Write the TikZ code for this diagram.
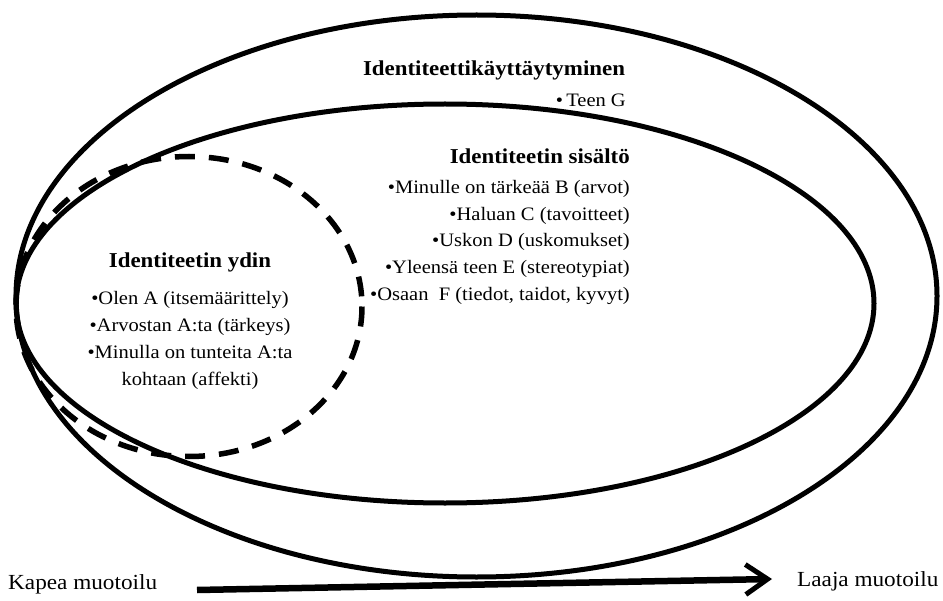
\documentclass[tikz,border=0pt]{standalone}
\usepackage{fontspec}
\setmainfont[FakeStretch=1.08]{Liberation Serif}
\usetikzlibrary{arrows.meta}
\tikzset{
  ring/.style={line width=5bp},
  corering/.style={line width=5.5bp, dash pattern=on 20bp off 14bp},
  head/.style={font=\fontsize{21.2bp}{26bp}\selectfont\bfseries, inner sep=0pt},
  item/.style={font=\fontsize{19bp}{26bp}\selectfont, inner sep=0pt},
  endlabel/.style={font=\fontsize{21.5bp}{26bp}\selectfont, inner sep=0pt},
  axis/.style={line width=6.5bp, -{Straight Barb[length=22bp,width=30bp,line width=5bp]}}
}
\begin{document}
\begin{tikzpicture}[x=1bp,y=-1bp]
\useasboundingbox (0,0) rectangle (943,601);
% nested layers
\draw[ring] (476.5,296) ellipse [x radius=460.5, y radius=281];
\draw[ring] (445,303.5) ellipse [x radius=429, y radius=199.5];
\draw[corering] (189,306.5) ellipse [x radius=173, y radius=150];
% outer layer
\node[head, anchor=base] (behav) at (494,76) {Identiteettikäyttäytyminen};
\node[item, anchor=base east] (g) at (626,107) {•\,Teen G};
% middle layer
\node[head, anchor=base east] (content) at (630,164) {Identiteetin sisältö};
\node[item, anchor=base east] (b) at (630,194) {•Minulle on tärkeää B (arvot)};
\node[item, anchor=base east] (c) at (630,221) {•Haluan C (tavoitteet)};
\node[item, anchor=base east] (d) at (630,247) {•Uskon D (uskomukset)};
\node[item, anchor=base east] (e) at (630,274) {•Yleensä teen E (stereotypiat)};
\node[item, anchor=base east] (f) at (630,300) {•Osaan\ \ F (tiedot, taidot, kyvyt)};
% core
\node[head, anchor=base] (core) at (190,268) {Identiteetin ydin};
\node[item, anchor=base] (a1) at (190,304) {•Olen A (itsemäärittely)};
\node[item, anchor=base] (a2) at (190,331) {•Arvostan A:ta (tärkeys)};
\node[item, anchor=base] (a3) at (190,358) {•Minulla on tunteita A:ta};
\node[item, anchor=base] (a4) at (190,385) {kohtaan (affekti)};
% scale from narrow to broad
\node[endlabel, anchor=base west] (narrow) at (8,589) {Kapea muotoilu};
\node[endlabel, anchor=base west] (broad) at (797,586) {Laaja muotoilu};
\coordinate (s) at (197,590);
\coordinate (t) at (772,579);
\draw[axis] (s) -- (t);
\end{tikzpicture}
\end{document}
